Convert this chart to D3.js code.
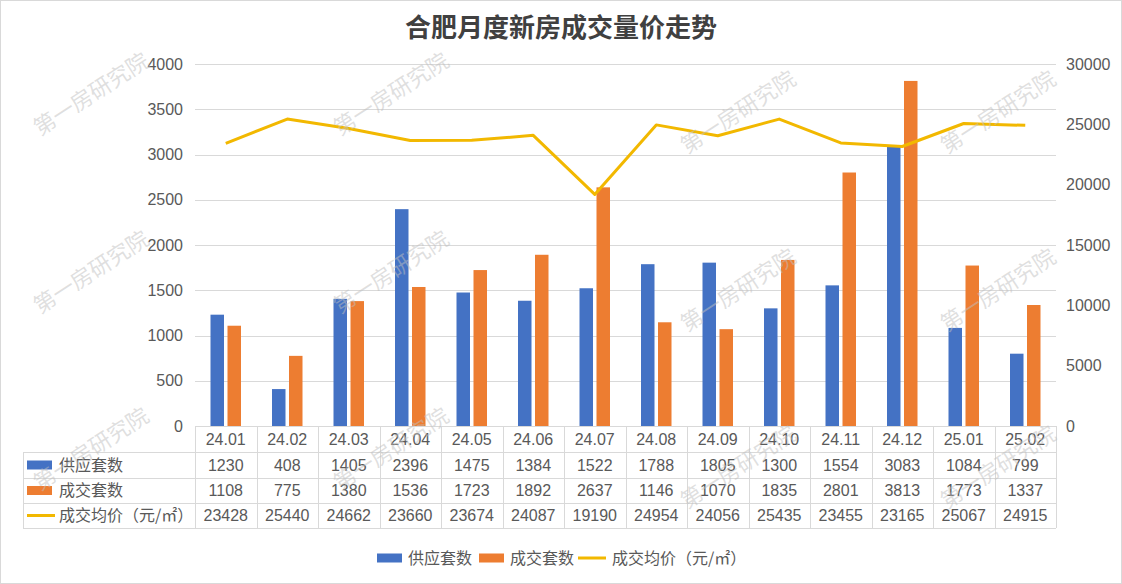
<!DOCTYPE html>
<html><head><meta charset="utf-8">
<script src="https://cdn.jsdelivr.net/npm/d3@7/dist/d3.min.js"></script>
<style>
html,body{margin:0;padding:0;background:#fff;}
text{font-family:"Liberation Sans","Noto Sans CJK SC",Arial,sans-serif;}
</style></head>
<body><svg id="c" width="1122" height="584"></svg>
<script>
const categories=["24.01","24.02","24.03","24.04","24.05","24.06","24.07","24.08","24.09","24.10","24.11","24.12","25.01","25.02"];
const supply=[1230,408,1405,2396,1475,1384,1522,1788,1805,1300,1554,3083,1084,799];
const deals=[1108,775,1380,1536,1723,1892,2637,1146,1070,1835,2801,3813,1773,1337];
const price=[23428,25440,24662,23660,23674,24087,19190,24954,24056,25435,23455,23165,25067,24915];
const leftTicks=[0,500,1000,1500,2000,2500,3000,3500,4000];
const rightTicks=[0,5000,10000,15000,20000,25000,30000];
const seriesNames=["供应套数","成交套数","成交均价（元/㎡）"];
const colors=["#4472C4","#ED7D31","#F2B800"];
const title="合肥月度新房成交量价走势";
const watermark="第一房研究院";

const svg=d3.select("#c");
const W=1122,H=584;
const L=195,R=1056,T=64,B=426;
const textColor="#595959",gridColor="#d9d9d9";

svg.append("rect").attr("x",0.5).attr("y",0.5).attr("width",W-1).attr("height",H-1).attr("fill","#fff").attr("stroke","#d9d9d9");

svg.append("text").attr("x",561).attr("y",37).attr("text-anchor","middle")
 .attr("font-size",26).attr("font-weight","bold").attr("fill","#404040")
 .style("font-family","'Noto Sans CJK SC',sans-serif").text(title);

const x=d3.scaleBand().domain(categories).range([L,R]).padding(0);
const yL=d3.scaleLinear().domain([0,4000]).range([B,T]);
const yR=d3.scaleLinear().domain([0,30000]).range([B,T]);

// grid
svg.append("g").selectAll("line").data(leftTicks).join("line")
 .attr("x1",L).attr("x2",R).attr("y1",d=>Math.round(yL(d))+0.5).attr("y2",d=>Math.round(yL(d))+0.5)
 .attr("stroke",gridColor).attr("stroke-width",1);

// axes labels
const axL=svg.append("g").attr("transform",`translate(${L-12},0)`).call(d3.axisLeft(yL).tickValues(leftTicks).tickFormat(d3.format("d")).tickSize(0).tickPadding(0));
axL.select(".domain").remove();
axL.selectAll("text").attr("font-size",16).attr("fill",textColor).style("font-family","'Liberation Sans',Arial,sans-serif");
const axR=svg.append("g").attr("transform",`translate(${R+10},0)`).call(d3.axisRight(yR).tickValues(rightTicks).tickFormat(d3.format("d")).tickSize(0).tickPadding(0));
axR.select(".domain").remove();
axR.selectAll("text").attr("font-size",16).attr("fill",textColor).style("font-family","'Liberation Sans',Arial,sans-serif");

// bars
const bw=13.5,gap=3.5;
const bw2=x.bandwidth();
const g=svg.append("g");
g.selectAll("rect.s").data(categories).join("rect").attr("class","s")
 .attr("x",(d)=>x(d)+bw2/2-gap/2-bw).attr("width",bw)
 .attr("y",(d,i)=>yL(supply[i])).attr("height",(d,i)=>B-yL(supply[i])).attr("fill",colors[0]);
g.selectAll("rect.d").data(categories).join("rect").attr("class","d")
 .attr("x",(d)=>x(d)+bw2/2+gap/2).attr("width",bw)
 .attr("y",(d,i)=>yL(deals[i])).attr("height",(d,i)=>B-yL(deals[i])).attr("fill",colors[1]);

// line
const line=d3.line().x((d,i)=>x(categories[i])+bw2/2).y(d=>yR(d));
svg.append("path").datum(price).attr("d",line).attr("fill","none").attr("stroke",colors[2]).attr("stroke-width",3).attr("stroke-linejoin","round");

// table
const rows=[452,478,503,528];
const tL=23;
const tg=svg.append("g");
tg.append("line").attr("x1",L).attr("x2",R).attr("y1",B+0.5).attr("y2",B+0.5).attr("stroke",gridColor);
rows.forEach(r=>tg.append("line").attr("x1",tL).attr("x2",R).attr("y1",r+0.5).attr("y2",r+0.5).attr("stroke",gridColor));
tg.append("line").attr("x1",tL+0.5).attr("x2",tL+0.5).attr("y1",rows[0]).attr("y2",rows[3]).attr("stroke",gridColor);
const vx=categories.map(c=>x(c)).concat([R]);
tg.selectAll("line.v").data(vx).join("line").attr("class","v")
 .attr("x1",d=>Math.round(d)+0.5).attr("x2",d=>Math.round(d)+0.5).attr("y1",B).attr("y2",rows[3]).attr("stroke",gridColor);
const rowMid=[ (B+rows[0])/2, (rows[0]+rows[1])/2, (rows[1]+rows[2])/2, (rows[2]+rows[3])/2 ];
tg.selectAll("text.cat").data(categories).join("text").attr("class","cat")
 .attr("x",d=>x(d)+bw2/2).attr("y",rowMid[0]).attr("dy","0.36em").attr("text-anchor","middle")
 .attr("font-size",16).attr("fill",textColor).text(d=>d);
[supply,deals,price].forEach((arr,k)=>{
 tg.selectAll("text.r"+k).data(arr).join("text").attr("class","r"+k)
  .attr("x",(d,i)=>x(categories[i])+bw2/2).attr("y",rowMid[k+1]).attr("dy","0.36em").attr("text-anchor","middle")
  .attr("font-size",16).attr("fill",textColor).text(d=>d);
});
// row headers
function icon(gp,k,x0,yc){
 if(k<2) gp.append("rect").attr("x",x0).attr("y",yc-4.5).attr("width",25).attr("height",9).attr("fill",colors[k]);
 else gp.append("line").attr("x1",x0).attr("x2",x0+28).attr("y1",yc).attr("y2",yc).attr("stroke",colors[2]).attr("stroke-width",3);
}
seriesNames.forEach((n,k)=>{
 icon(tg,k,27,rowMid[k+1]);
 tg.append("text").attr("x",59).attr("y",rowMid[k+1]).attr("dy","0.36em").attr("font-size",16).attr("fill",textColor)
  .style("font-family","'Noto Sans CJK SC',sans-serif").text(n);
});

// legend
const lg=svg.append("g");
const lx=[377,479,578], ltx=[408,510,612], ly=558;
seriesNames.forEach((n,k)=>{
 icon(lg,k,lx[k],ly);
 lg.append("text").attr("x",ltx[k]).attr("y",ly).attr("dy","0.36em").attr("font-size",16).attr("fill",textColor)
  .style("font-family","'Noto Sans CJK SC',sans-serif").text(n);
});

// watermarks
const wmX=[91,391,738,998];
const wmY=[[94,272,449],[94,272,449],[112,290,467],[112,290,467]];
const wg=svg.append("g");
wmX.forEach((cx,ci)=>wmY[ci].forEach(cy=>{
 wg.append("text").attr("transform",`translate(${cx},${cy}) rotate(-33)`).attr("text-anchor","middle").attr("dy","0.36em")
  .attr("font-size",22).attr("fill","#bfbfbf").attr("fill-opacity",0.5)
  .style("font-family","'Noto Sans CJK SC',sans-serif").text(watermark);
}));
</script></body></html>
